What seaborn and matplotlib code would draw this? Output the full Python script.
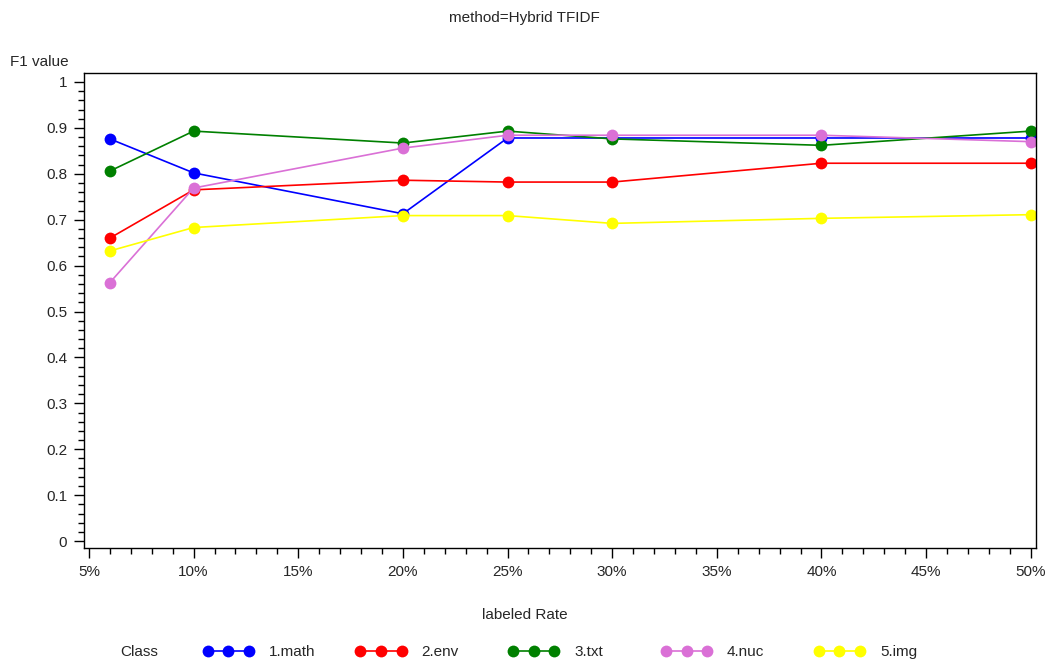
import matplotlib
matplotlib.use("Agg")
import matplotlib.pyplot as plt
from matplotlib.ticker import MultipleLocator, FuncFormatter
from matplotlib.lines import Line2D
import seaborn as sns
import pandas as pd

rates = [6, 10, 20, 25, 30, 40, 50]
classes = ["1.math", "2.env", "3.txt", "4.nuc", "5.img"]
math_vals = [0.876, 0.802, 0.713, 0.878, 0.878, 0.878, 0.878]
env_vals = [0.660, 0.765, 0.786, 0.782, 0.782, 0.823, 0.823]
txt_vals = [0.806, 0.893, 0.867, 0.893, 0.876, 0.862, 0.893]
nuc_vals = [0.563, 0.769, 0.856, 0.884, 0.884, 0.884, 0.870]
img_vals = [0.632, 0.683, 0.709, 0.709, 0.692, 0.703, 0.711]
colors = ["#0000FF", "#FF0000", "#008000", "#DA70D6", "#FFFF00"]

series = [math_vals, env_vals, txt_vals, nuc_vals, img_vals]
rows = []
for c, vals in zip(classes, series):
    for r, v in zip(rates, vals):
        rows.append({"Rate": r, "F1": v, "Class": c})
df = pd.DataFrame(rows)

sns.set_style("white")
plt.rcParams["font.family"] = ["Liberation Sans", "DejaVu Sans"]

fig = plt.figure(figsize=(10.49, 6.67), dpi=100)
ax = fig.add_axes([0.080, 0.1784, 0.9076, 0.7122])

sns.lineplot(data=df, x="Rate", y="F1", hue="Class", hue_order=classes,
             palette=colors, marker="o", markersize=8.5, markeredgewidth=0,
             linewidth=1.2, ax=ax, legend=False)

ax.set_xlim(4.76, 50.25)
ax.set_ylim(-0.015, 1.0196)
ax.xaxis.set_major_locator(MultipleLocator(5))
ax.xaxis.set_minor_locator(MultipleLocator(1))
ax.yaxis.set_major_locator(MultipleLocator(0.1))
ax.yaxis.set_minor_locator(MultipleLocator(0.02))
ax.xaxis.set_major_formatter(FuncFormatter(lambda v, p: f"{int(round(v))}%"))
ax.yaxis.set_major_formatter(FuncFormatter(lambda v, p: "0" if abs(v) < 1e-9 else ("1" if abs(v-1) < 1e-9 else f"{v:.1f}")))
ax.tick_params(axis="both", which="major", direction="out", length=7, width=1,
               labelsize=11, color="black", pad=5, bottom=True, left=True)
ax.tick_params(axis="both", which="minor", direction="out", length=4, width=1,
               color="black", bottom=True, left=True)
for s in ax.spines.values():
    s.set_color("black")
    s.set_linewidth(1)
ax.set_xlabel("")
ax.set_ylabel("")

fig.text(0.5, 0.973, "method=Hybrid TFIDF", ha="center", va="center", fontsize=11)
fig.text(0.010, 0.907, "F1 value", ha="left", va="center", fontsize=11)
fig.text(0.5, 0.078, "labeled Rate", ha="center", va="center", fontsize=11)
fig.text(0.115, 0.022, "Class", ha="left", va="center", fontsize=11)

for i, (c, name) in enumerate(zip(colors, classes)):
    h = Line2D([0], [0], color=c, marker="o", markersize=8.5, markeredgewidth=0,
               linewidth=1.2)
    x0 = (203 + 152.8 * i) / 1049
    fig.legend([h], [name], loc="center left", bbox_to_anchor=(x0, 0.022),
               frameon=False, numpoints=3, handlelength=3.3, handletextpad=1.0,
               fontsize=11, borderaxespad=0, borderpad=0)

fig.savefig("out.png", dpi=100)
